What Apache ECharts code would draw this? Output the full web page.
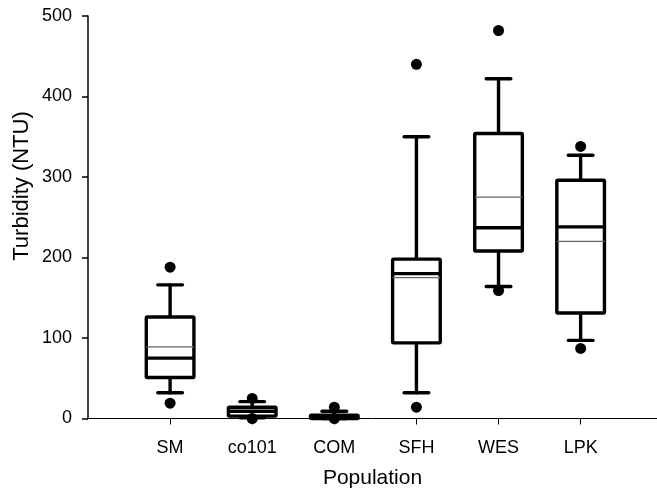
<!DOCTYPE html>
<html>
<head>
<meta charset="utf-8">
<script src="https://cdn.jsdelivr.net/npm/echarts@6/dist/echarts.min.js"></script>
<style>
  html, body { margin: 0; padding: 0; background: #fff; }
  #chart { width: 657px; height: 488px; }
</style>
</head>
<body>
<div id="chart"></div>
<script>
// Turbidity by population: box = quartiles, thick line = median,
// thin line = mean, capped whiskers = 10th/90th, dots = 5th/95th.
const categories  = ['SM', 'co101', 'COM', 'SFH', 'WES', 'LPK'];
const whiskerLow  = [32, 1, 0, 32, 164, 97];
const quartile1   = [51, 3, 0, 94, 208, 131];
const medians     = [75, 9, 2, 180, 237, 238];
const quartile3   = [126, 14, 4, 198, 354, 296];
const whiskerHigh = [166, 21, 9, 350, 422, 327];
const means       = [89, 8, 2, 175, 275, 220];
const lowDots     = [19, 0, 0, 14, 159, 87];
const highDots    = [188, 25, 14, 440, 482, 338];

const yTicks = [0, 100, 200, 300, 400, 500];
const yTitle = 'Turbidity (NTU)';
const xTitle = 'Population';

const positions = categories.map((_, i) => i + 1);

const boxData = categories.map((_, i) => [
  positions[i], whiskerLow[i], quartile1[i], medians[i],
  quartile3[i], whiskerHigh[i], means[i]
]);
const dotData = [];
categories.forEach((_, i) => {
  dotData.push([positions[i], lowDots[i]]);
  dotData.push([positions[i], highDots[i]]);
});

const black = '#000';

function renderBox(params, api) {
  const x = api.value(0);
  const pLo = api.coord([x, api.value(1)]);
  const pQ1 = api.coord([x, api.value(2)]);
  const pMed = api.coord([x, api.value(3)]);
  const pQ3 = api.coord([x, api.value(4)]);
  const pHi = api.coord([x, api.value(5)]);
  const pMean = api.coord([x, api.value(6)]);
  const unit = api.size([1, 0])[0];
  const halfBox = unit * 0.29;
  const halfCap = unit * 0.15;
  const cx = pQ1[0];
  const thick = { stroke: black, lineWidth: 3.4, lineCap: 'round' };
  return {
    type: 'group',
    children: [
      { type: 'line', shape: { x1: cx, y1: pQ3[1], x2: cx, y2: pHi[1] }, style: thick },
      { type: 'line', shape: { x1: cx, y1: pQ1[1], x2: cx, y2: pLo[1] }, style: thick },
      { type: 'line', shape: { x1: cx - halfCap, y1: pHi[1], x2: cx + halfCap, y2: pHi[1] }, style: thick },
      { type: 'line', shape: { x1: cx - halfCap, y1: pLo[1], x2: cx + halfCap, y2: pLo[1] }, style: thick },
      {
        type: 'rect',
        shape: { x: cx - halfBox, y: pQ3[1], width: halfBox * 2, height: pQ1[1] - pQ3[1], r: 1 },
        style: { fill: '#fff', stroke: black, lineWidth: 3.4, lineJoin: 'round' }
      },
      { type: 'line', shape: { x1: cx - halfBox, y1: pMean[1], x2: cx + halfBox, y2: pMean[1] },
        style: { stroke: '#666', lineWidth: 1.2 } },
      { type: 'line', shape: { x1: cx - halfBox, y1: pMed[1], x2: cx + halfBox, y2: pMed[1] },
        style: { stroke: black, lineWidth: 3.4 } }
    ]
  };
}

const chart = echarts.init(document.getElementById('chart'), null, { renderer: 'canvas' });

const fontFamily = 'Liberation Sans, Arial, sans-serif';

chart.setOption({
  animation: false,
  backgroundColor: '#fff',
  grid: { left: 88, right: 0, top: 16, bottom: 69.5, containLabel: false, outerBoundsMode: 'none' },
  graphic: [
    {
      type: 'text',
      x: 22,
      y: 186,
      rotation: Math.PI / 2,
      style: {
        text: yTitle,
        fill: black,
        font: '22px ' + fontFamily,
        align: 'center',
        verticalAlign: 'middle'
      }
    }
  ],
  xAxis: {
    type: 'value',
    min: 0,
    max: 6.93,
    interval: 1,
    splitLine: { show: false },
    axisLine: { lineStyle: { color: black, width: 1 } },
    axisTick: { show: true, inside: false, length: 6, customValues: positions,
                lineStyle: { color: black, width: 1 } },
    axisLabel: {
      customValues: positions,
      formatter: v => categories[Math.round(v) - 1] || '',
      color: black, fontSize: 18, fontFamily, margin: 21
    },
    name: xTitle,
    nameLocation: 'middle',
    nameGap: 49,
    nameTextStyle: { color: black, fontSize: 21, fontFamily }
  },
  yAxis: {
    type: 'value',
    min: yTicks[0],
    max: yTicks[yTicks.length - 1],
    interval: 100,
    splitLine: { show: false },
    axisLine: { show: true, lineStyle: { color: black, width: 1.5 } },
    axisTick: { show: true, inside: false, length: 6, lineStyle: { color: black, width: 1.5 } },
    axisLabel: { color: black, fontSize: 18, fontFamily, margin: 16 }
  },
  series: [
    {
      type: 'custom',
      renderItem: renderBox,
      data: boxData,
      encode: { x: 0, y: [1, 2, 3, 4, 5] },
      z: 2
    },
    {
      type: 'scatter',
      data: dotData,
      symbol: 'circle',
      symbolSize: 11,
      itemStyle: { color: black, opacity: 1 },
      z: 3
    }
  ]
});
</script>
</body>
</html>
